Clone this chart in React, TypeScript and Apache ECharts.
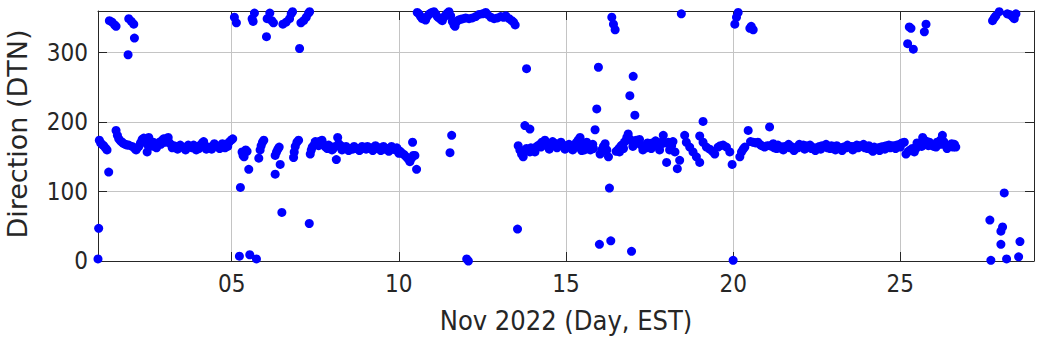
import React, { useEffect, useRef } from "react";
import * as echarts from "echarts";

// Axis ticks
const xTicks = [5, 10, 15, 20, 25];
const yTicks = [0, 100, 200, 300];
const xTitle = "Nov 2022 (Day, EST)";
const yTitle = "Direction (DTN)";

// [day of Nov 2022, direction (deg)]
const bandNov1to5: [number, number][] = [
  [1.04, 174], [1.08, 170], [1.12, 168], [1.17, 166], [1.22, 163], [1.27, 160], [1.32, 128],
  [1.54, 188], [1.58, 181], [1.62, 176], [1.67, 173], [1.72, 171], [1.77, 169], [1.82, 168], [1.87, 167], [1.92, 167],
  [2.02, 165], [2.1, 162], [2.14, 160], [2.18, 163], [2.22, 165], [2.27, 170], [2.32, 175], [2.37, 177], [2.42, 172],
  [2.47, 157], [2.47, 168], [2.52, 178], [2.57, 172], [2.62, 168], [2.67, 165], [2.72, 166], [2.78, 169], [2.84, 171],
  [2.9, 173], [2.96, 176], [3.02, 176], [3.08, 173], [3.14, 170], [3.2, 167], [3.27, 166], [3.34, 165], [3.42, 164],
  [3.5, 164], [3.58, 163], [3.66, 164], [3.74, 164], [3.82, 163], [3.9, 163], [3.98, 165], [4.06, 167], [4.12, 170],
  [4.2, 166], [4.28, 164], [4.36, 164], [4.44, 165], [4.52, 167], [4.6, 165], [4.68, 166], [4.76, 166], [4.84, 168],
  [4.92, 171], [4.98, 174], [5.03, 176],
  [2.55, 165], [2.65, 171], [2.75, 163], [2.88, 168], [3.0, 171], [3.1, 178], [3.22, 163], [3.38, 161], [3.46, 167],
  [3.62, 160], [3.7, 167], [3.86, 167], [3.94, 160], [4.02, 162], [4.16, 172], [4.24, 161], [4.4, 161], [4.48, 169],
  [4.64, 162], [4.72, 169], [4.8, 163], [4.88, 165],
];

const bandNov5to11: [number, number][] = [
  [5.26, 106], [5.31, 157], [5.34, 152], [5.37, 150], [5.42, 160], [5.46, 158], [5.51, 132],
  [5.81, 148], [5.85, 160], [5.88, 166], [5.92, 171], [5.96, 174],
  [6.3, 152], [6.34, 157], [6.38, 161], [6.42, 164], [6.45, 139], [6.3, 125],
  [6.85, 149], [6.87, 157], [6.9, 165], [6.95, 171], [7.0, 174],
  [7.35, 154], [7.38, 160], [7.41, 164], [7.46, 167], [7.51, 169], [7.56, 170], [7.61, 172], [7.66, 172], [7.71, 170],
  [7.76, 167], [7.81, 164], [7.86, 162], [7.92, 163], [7.98, 164], [8.04, 162], [8.1, 165], [8.13, 146], [8.17, 178],
  [8.2, 169], [8.26, 166], [8.32, 164], [8.38, 162], [8.46, 161], [8.54, 162], [8.62, 161], [8.7, 162], [8.78, 162],
  [8.86, 161], [8.94, 163], [9.02, 161], [9.1, 162], [9.18, 163], [9.26, 163], [9.34, 162], [9.42, 163], [9.5, 162],
  [9.58, 161], [9.66, 162], [9.74, 161], [9.82, 161], [9.9, 160], [9.97, 160], [10.04, 158], [10.1, 155], [10.16, 153],
  [10.22, 150], [10.28, 147], [10.33, 143], [10.38, 148], [10.43, 152], [10.48, 152], [10.41, 171], [10.53, 132],
  [11.53, 156], [11.58, 181],
  [7.5, 172], [7.6, 166], [7.7, 174], [7.9, 167], [8.0, 160], [8.3, 160], [8.42, 165], [8.5, 159], [8.66, 165],
  [8.82, 159], [8.9, 165], [9.06, 165], [9.22, 159], [9.3, 166], [9.46, 159], [9.54, 165], [9.7, 158], [9.78, 165],
  [9.94, 163], [10.0, 155],
];

const bandNov13to19: [number, number][] = [
  [13.57, 166], [13.62, 160], [13.67, 154], [13.72, 150], [13.77, 158], [13.82, 162], [13.87, 160], [13.92, 157],
  [13.98, 160], [14.04, 162], [14.1, 164], [14.16, 166], [14.22, 168], [14.28, 171], [14.34, 170], [14.4, 167],
  [14.46, 166], [14.52, 166], [14.58, 167], [14.64, 168], [14.7, 169], [14.76, 168], [14.82, 167], [14.88, 166],
  [14.94, 166], [15.0, 166], [15.06, 165], [15.12, 164], [15.18, 165], [15.24, 167], [15.3, 170], [15.36, 174],
  [15.42, 178], [15.47, 159], [15.47, 170], [15.52, 165], [15.58, 164], [15.64, 165], [15.7, 166], [15.76, 164],
  [15.82, 162], [15.87, 189], [16.02, 154], [16.07, 160], [16.12, 165], [16.17, 169], [16.22, 160], [16.27, 150],
  [16.5, 158], [16.55, 160], [16.6, 163], [16.65, 166], [16.7, 168], [16.76, 172], [16.82, 178], [16.86, 183],
  [16.92, 175], [16.98, 172], [17.04, 171], [17.1, 174], [17.16, 171], [17.22, 168], [17.28, 166], [17.34, 164],
  [17.4, 163], [17.46, 165], [17.52, 168], [17.58, 170], [17.64, 168], [17.7, 166], [17.76, 165], [17.82, 167],
  [17.88, 172], [17.91, 181], [17.96, 170], [18.01, 142], [18.06, 171], [18.16, 166], [18.26, 157], [18.33, 133],
  [18.4, 145], [18.55, 181], [18.6, 171], [18.7, 164], [18.8, 157], [18.9, 150], [19.0, 142], [19.0, 180],
  [19.1, 201],
  [13.95, 163], [14.07, 157], [14.25, 164], [14.37, 174], [14.5, 161], [14.6, 172], [14.73, 163], [14.85, 171],
  [14.97, 161], [15.09, 168], [15.2, 160], [15.33, 164], [15.44, 166], [15.55, 160], [15.62, 171], [15.73, 160],
  [15.8, 168], [16.1, 158], [16.6, 157], [16.72, 162], [17.0, 165], [17.2, 175], [17.3, 160], [17.44, 170],
  [17.55, 162], [17.68, 173], [17.8, 160], [18.1, 160], [18.2, 172],
];

const bandNov19to27: [number, number][] = [
  [19.1, 171], [19.2, 164], [19.3, 161], [19.38, 158], [19.45, 154], [19.55, 164], [19.62, 166], [19.7, 167],
  [19.8, 164], [19.9, 157], [19.97, 139], [20.2, 150], [20.25, 157], [20.3, 161], [20.35, 164], [20.45, 188],
  [20.52, 172], [20.6, 171], [20.67, 170], [20.74, 171], [20.8, 168], [20.85, 166], [20.94, 164], [21.02, 166],
  [21.09, 193], [21.09, 166], [21.16, 165], [21.23, 163], [21.3, 162], [21.38, 163], [21.46, 164], [21.54, 165],
  [21.62, 164], [21.7, 163], [21.78, 164], [21.86, 162], [21.94, 163], [22.02, 165], [22.1, 167], [22.18, 166],
  [22.26, 164], [22.34, 162], [22.42, 163], [22.5, 163], [22.58, 165], [22.66, 166], [22.74, 165], [22.82, 163],
  [22.9, 162], [22.98, 163], [23.06, 160], [23.14, 162], [23.22, 163], [23.3, 164], [23.38, 163], [23.46, 164],
  [23.54, 165], [23.62, 165], [23.7, 167], [23.78, 166], [23.86, 165], [23.94, 163], [24.02, 162], [24.1, 161],
  [24.18, 158], [24.26, 161], [24.34, 163], [24.42, 164], [24.5, 165], [24.58, 166], [24.66, 167], [24.74, 166],
  [24.82, 166], [24.9, 167], [24.98, 168], [25.05, 170], [25.12, 171], [25.17, 154], [25.24, 158], [25.3, 160],
  [25.36, 162], [25.42, 157], [25.47, 162], [25.53, 166], [25.6, 170], [25.67, 178], [25.72, 174], [25.8, 172],
  [25.87, 171], [25.94, 167], [26.0, 165], [26.07, 164], [26.14, 168], [26.2, 174], [26.26, 181], [26.3, 172],
  [26.36, 168], [26.42, 166], [26.5, 165], [26.58, 164], [26.66, 164],
  [21.2, 169], [21.34, 167], [21.5, 160], [21.66, 168], [21.82, 159], [21.98, 168], [22.14, 161], [22.3, 167],
  [22.46, 159], [22.62, 161], [22.78, 168], [22.94, 166], [23.1, 166], [23.26, 159], [23.42, 167], [23.58, 160],
  [23.74, 163], [23.9, 168], [24.06, 166], [24.22, 164], [24.38, 159], [24.54, 161], [24.7, 163], [24.86, 162],
  [25.0, 164], [25.5, 170], [25.64, 165], [25.84, 166], [26.1, 171], [26.24, 168], [26.4, 162], [26.54, 169],
  [26.62, 168],
];

const northNov1to8: [number, number][] = [
  [1.34, 346], [1.42, 344], [1.5, 340], [1.54, 338], [1.9, 297], [1.92, 349], [2.0, 345], [2.07, 341], [2.09, 321],
  [5.08, 351], [5.14, 343], [5.61, 349], [5.64, 345], [5.68, 357], [6.04, 323], [6.06, 349], [6.14, 357], [6.2, 346],
  [6.25, 343], [6.53, 341], [6.63, 344], [6.73, 349], [6.78, 356], [6.82, 359], [7.03, 306], [7.07, 343], [7.15, 346],
  [7.23, 351], [7.3, 357], [7.33, 359],
];

const northNov10to14: [number, number][] = [
  [10.55, 358], [10.6, 356], [10.65, 352], [10.7, 349], [10.75, 350], [10.8, 347], [10.85, 352], [10.9, 355],
  [10.95, 357], [11.0, 358], [11.05, 359], [11.1, 356], [11.15, 352], [11.2, 350], [11.25, 348], [11.3, 346],
  [11.35, 351], [11.4, 354], [11.45, 357], [11.5, 359], [11.55, 353], [11.6, 345], [11.65, 340], [11.68, 338],
  [11.72, 344], [11.78, 347], [11.85, 348], [11.92, 349], [12.0, 350], [12.1, 349], [12.2, 350], [12.3, 352],
  [12.4, 355], [12.5, 356], [12.6, 358], [12.65, 355], [12.75, 351], [12.85, 349], [12.95, 350], [13.05, 352],
  [13.13, 351], [13.2, 353], [13.3, 349], [13.38, 346], [13.43, 344], [13.48, 340],
];

const northNov16to29: [number, number][] = [
  [16.37, 351], [16.42, 341], [16.47, 333], [18.45, 356], [20.05, 341], [20.1, 351], [20.15, 358], [20.5, 335],
  [20.54, 338], [20.6, 333], [25.22, 313], [25.27, 337], [25.32, 335], [25.39, 305], [25.72, 330], [25.77, 341],
  [27.76, 346], [27.81, 350], [27.86, 353], [27.96, 359], [28.2, 356], [28.26, 355], [28.35, 352], [28.41, 349],
  [28.46, 356],
];

const midOutliers: [number, number][] = [
  [13.82, 277], [13.77, 195], [13.92, 190], [15.92, 219], [15.97, 279], [16.91, 238], [17.01, 266], [17.06, 210],
];

const lowPoints: [number, number][] = [
  [1.0, 3], [1.02, 47], [5.23, 7], [5.54, 9], [5.74, 3], [6.5, 70], [7.32, 54], [12.03, 3], [12.08, 0],
  [13.55, 46], [16.0, 24], [16.3, 105], [16.34, 29], [16.96, 14], [20.0, 1], [27.68, 59], [27.71, 1],
  [28.01, 24], [28.01, 43], [28.06, 49], [28.11, 98], [28.18, 3], [28.54, 6], [28.58, 28],
];

const TEXT = "#262626";
const GRIDC = "#c4c4c4";
const TICKFONT = "'DejaVu Sans Condensed', 'DejaVu Sans', sans-serif";

export default function App() {
  const ref = useRef<HTMLDivElement>(null);
  useEffect(() => {
    const chart = echarts.init(ref.current!, null, { renderer: "svg" });
    const data = [
      ...bandNov1to5, ...bandNov5to11, ...bandNov13to19, ...bandNov19to27,
      ...northNov1to8, ...northNov10to14, ...northNov16to29, ...midOutliers, ...lowPoints,
    ];
    const pad = (v: number) => (v < 10 ? "0" + v : String(v));
    chart.setOption({
      animation: false,
      backgroundColor: "#ffffff",
      grid: { left: 98, right: 4, top: 11, bottom: 86 },
      xAxis: [
        {
          type: "value", min: 1, max: 29, position: "bottom",
          axisLine: { show: true, lineStyle: { color: TEXT, width: 1 } },
          axisTick: { show: true, inside: true, length: 9, customValues: xTicks, lineStyle: { color: TEXT } },
          axisLabel: { show: true, customValues: xTicks, formatter: (v: number) => pad(v), color: TEXT, fontSize: 24, fontFamily: TICKFONT, margin: 11 },
          splitLine: { show: true, lineStyle: { color: GRIDC, width: 1 } },
        },
        {
          type: "value", min: 1, max: 29, position: "top",
          axisLine: { show: true, onZero: false, lineStyle: { color: TEXT, width: 1 } },
          axisTick: { show: true, inside: true, length: 9, customValues: xTicks, lineStyle: { color: TEXT } },
          axisLabel: { show: false },
          splitLine: { show: false },
        },
      ],
      yAxis: [
        {
          type: "value", min: 0, max: 360, position: "left",
          axisLine: { show: true, onZero: false, lineStyle: { color: TEXT, width: 1 } },
          axisTick: { show: true, inside: true, length: 9, customValues: yTicks, lineStyle: { color: TEXT } },
          axisLabel: { show: true, customValues: yTicks, color: TEXT, fontSize: 24, fontFamily: TICKFONT, margin: 10 },
          splitLine: { show: true, lineStyle: { color: GRIDC, width: 1 } },
        },
        {
          type: "value", min: 0, max: 360, position: "right",
          axisLine: { show: true, onZero: false, lineStyle: { color: TEXT, width: 1 } },
          axisTick: { show: true, inside: true, length: 9, customValues: yTicks, lineStyle: { color: TEXT } },
          axisLabel: { show: false },
          splitLine: { show: false },
        },
      ],
      graphic: [
        {
          type: "text", x: 566, y: 320,
          style: { text: xTitle, fill: TEXT, font: `27px ${TICKFONT}`, textAlign: "center", textVerticalAlign: "middle" },
        },
        {
          type: "text", x: 17, y: 134, rotation: Math.PI / 2,
          style: { text: yTitle, fill: TEXT, font: "27px 'DejaVu Sans', sans-serif", textAlign: "center", textVerticalAlign: "middle" },
        },
      ],
      series: [
        {
          type: "scatter", xAxisIndex: 0, yAxisIndex: 0,
          symbol: "circle", symbolSize: 9,
          itemStyle: { color: "#0000ff", opacity: 1 },
          data,
        },
      ],
    });
    return () => chart.dispose();
  }, []);
  return <div ref={ref} style={{ position: "absolute", left: 0, top: 0, width: 1038, height: 347 }} />;
}
